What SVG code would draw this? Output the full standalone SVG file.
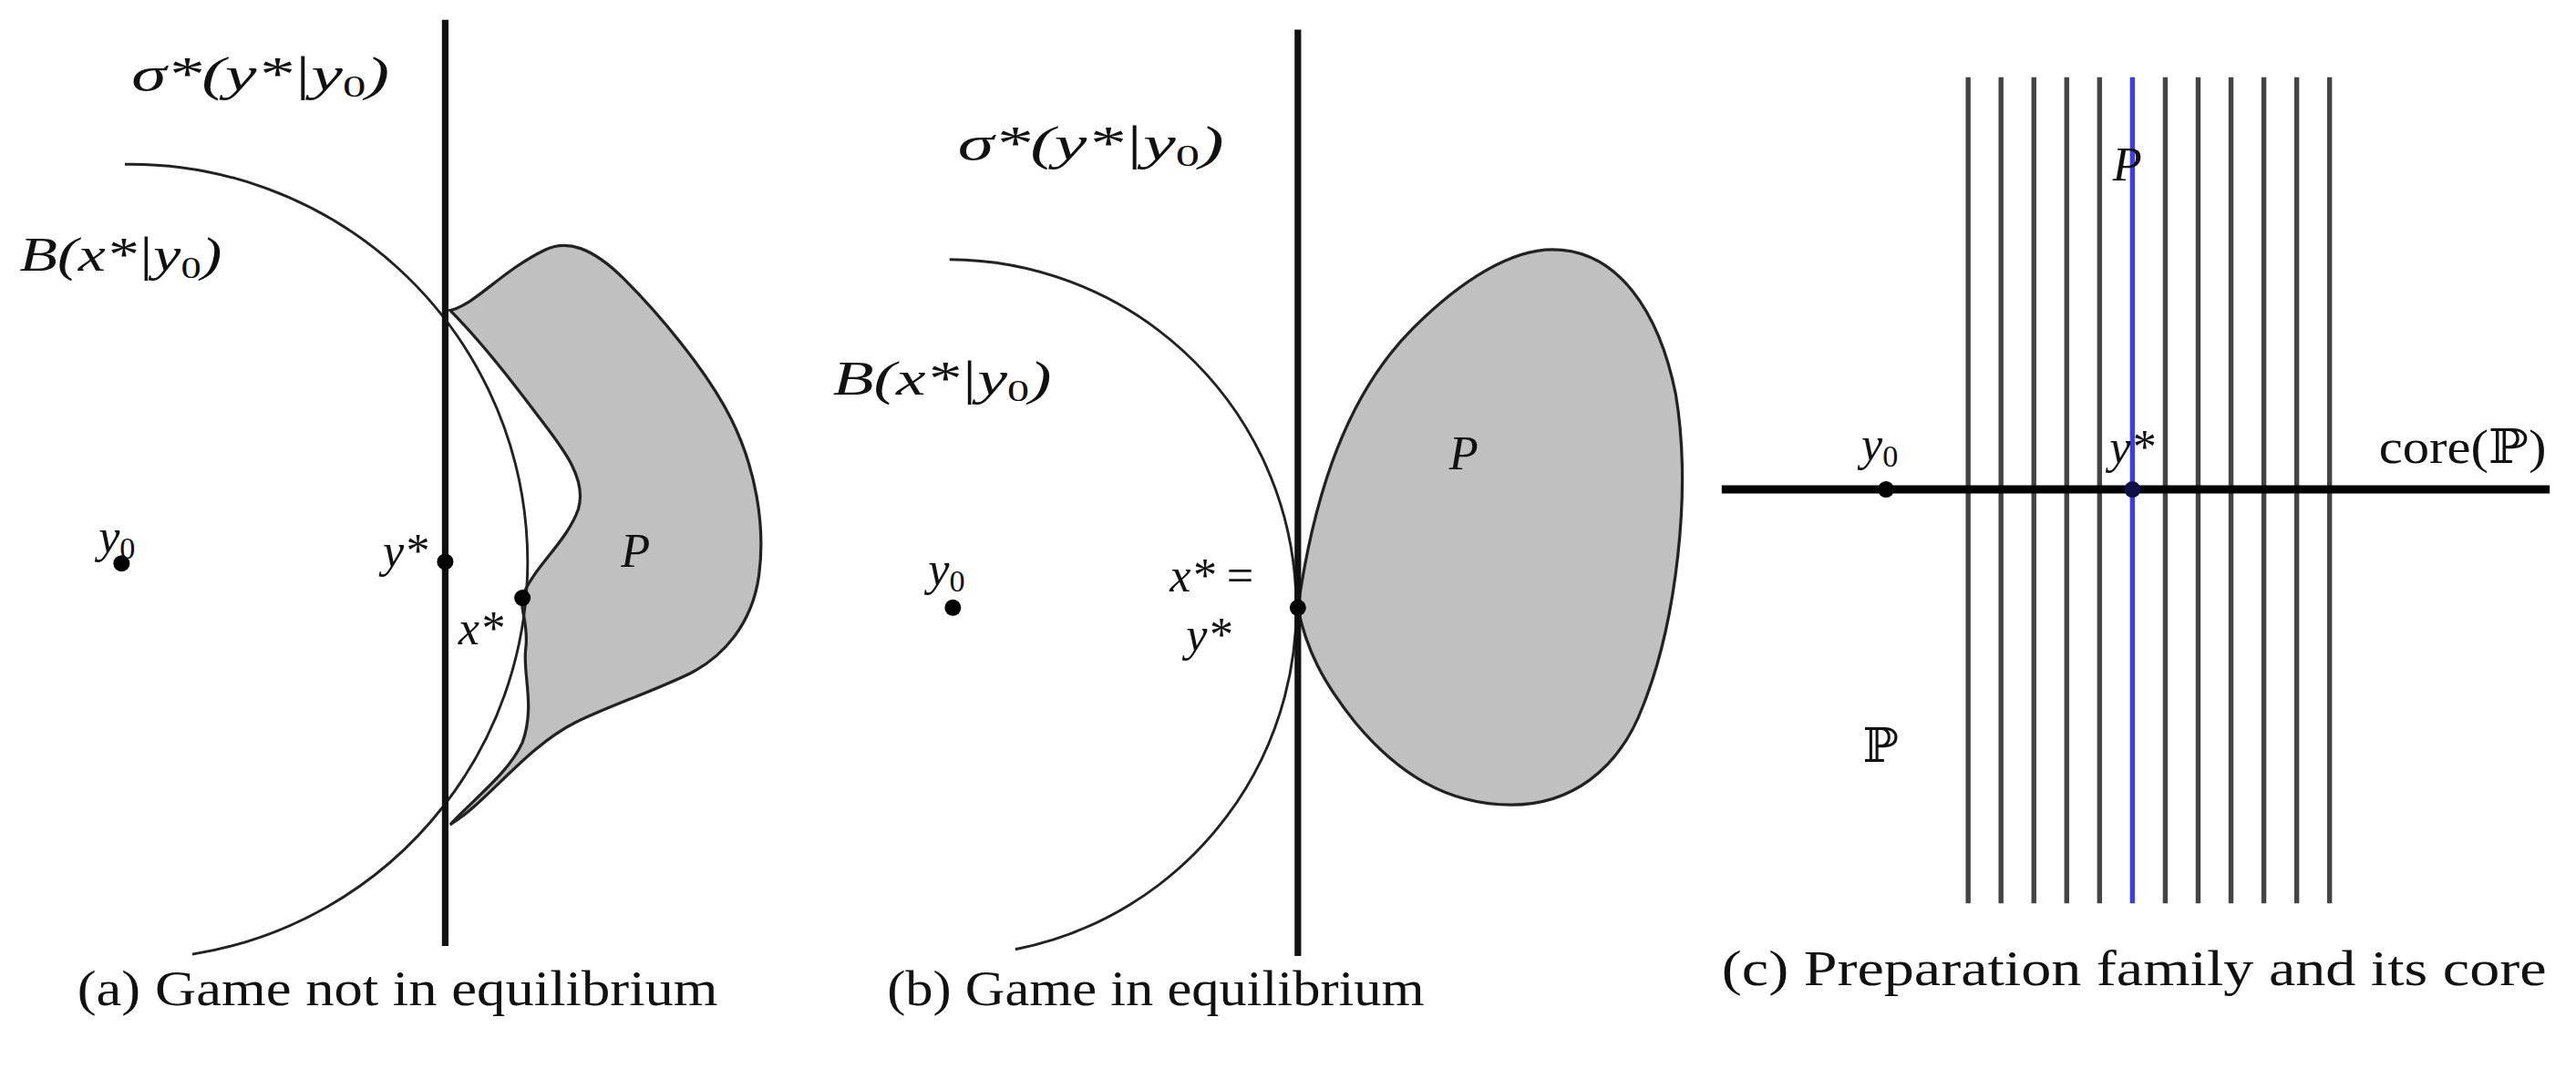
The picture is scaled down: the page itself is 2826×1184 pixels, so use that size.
<svg xmlns="http://www.w3.org/2000/svg" width="2826" height="1184" viewBox="0 0 2826 1184">
<style>
.m{font-family:"Liberation Serif","DejaVu Serif",serif;font-style:italic;font-size:29px;fill:#111}
.r{font-family:"Liberation Serif","DejaVu Serif",serif;font-style:normal;font-size:29px;fill:#111}
.s{font-style:normal;font-size:19px}
.cap{font-family:"Liberation Serif","DejaVu Serif",serif;font-size:31px;fill:#111}
.thin{fill:none;stroke:#222;stroke-width:1.6}
.axis{stroke:#111;stroke-width:4}
.blob{fill:#c0c0c0;stroke:#222;stroke-width:1.8}
.vl{stroke:#444;stroke-width:3}
</style>
<rect width="2826" height="1184" fill="#fff"/>
<g transform="scale(1.8023)">
<g id="panel-a">
<path class="blob" d="M274,189 C290,185 305,165 332,152 C345,146 360,150 380,170 C400,190 430,225 445,255 C460,285 466,320 462,350 C458,380 440,400 420,410 C395,422 370,430 350,440 C320,455 295,490 274,502 C290,485 310,470 318,452 C326,430 318,410 320,395 C322,380 316,370 318,363 C325,345 345,330 352,310 C358,290 340,270 325,250 C310,230 290,205 274,189 Z"/>
<path class="thin" d="M76,100 A242 242 0 0 1 117,581"/>
<line class="axis" x1="271" y1="12" x2="271" y2="576"/>
<circle cx="74" cy="343" r="5"/>
<circle cx="271" cy="342" r="5"/>
<circle cx="318" cy="364" r="5"/>
<text class="m" x="80" y="55" textLength="157" lengthAdjust="spacingAndGlyphs">σ*(y*|y<tspan class="s" dy="4">0</tspan><tspan dy="-4">)</tspan></text>
<text class="m" x="12" y="165" textLength="123" lengthAdjust="spacingAndGlyphs">B(x*|y<tspan class="s" dy="4">0</tspan><tspan dy="-4">)</tspan></text>
<text class="m" x="60" y="336">y<tspan class="s" dy="4">0</tspan></text>
<text class="m" x="233" y="345">y*</text>
<text class="m" x="279" y="392">x*</text>
<text class="m" x="378" y="345" font-size="31">P</text>
<text class="cap" x="47" y="612" textLength="390" lengthAdjust="spacingAndGlyphs">(a) Game not in equilibrium</text>
</g>
<g id="panel-b">
<path class="blob" d="M790,370 C800,300 820,240 860,200 C890,170 920,152 945,152 C985,152 1010,190 1020,240 C1030,300 1020,380 1000,430 C985,470 955,490 920,490 C880,490 850,470 825,440 C805,415 795,395 790,370 Z"/>
<path class="thin" d="M578,158 A212 212 0 0 1 618,578"/>
<line class="axis" x1="790" y1="18" x2="790" y2="582"/>
<circle cx="580" cy="370" r="5"/>
<circle cx="790" cy="370" r="5"/>
<text class="m" x="583" y="97" textLength="162" lengthAdjust="spacingAndGlyphs">σ*(y*|y<tspan class="s" dy="4">0</tspan><tspan dy="-4">)</tspan></text>
<text class="m" x="507" y="240" textLength="133" lengthAdjust="spacingAndGlyphs">B(x*|y<tspan class="s" dy="4">0</tspan><tspan dy="-4">)</tspan></text>
<text class="m" x="565" y="356">y<tspan class="s" dy="4">0</tspan></text>
<text class="m" x="712" y="360">x* <tspan class="r">=</tspan></text>
<text class="m" x="722" y="396">y*</text>
<text class="m" x="882" y="286" font-size="31">P</text>
<text class="cap" x="540" y="612" textLength="327" lengthAdjust="spacingAndGlyphs">(b) Game in equilibrium</text>
</g>
<g id="panel-c">
<g id="family">
<line class="vl" x1="1198" y1="47" x2="1198" y2="550"/>
<line class="vl" x1="1218" y1="47" x2="1218" y2="550"/>
<line class="vl" x1="1238" y1="47" x2="1238" y2="550"/>
<line class="vl" x1="1258" y1="47" x2="1258" y2="550"/>
<line class="vl" x1="1278" y1="47" x2="1278" y2="550"/>
<line x1="1298" y1="47" x2="1298" y2="550" stroke="#3a3aff" stroke-width="3"/>
<line class="vl" x1="1318" y1="47" x2="1318" y2="550"/>
<line class="vl" x1="1338" y1="47" x2="1338" y2="550"/>
<line class="vl" x1="1358" y1="47" x2="1358" y2="550"/>
<line class="vl" x1="1378" y1="47" x2="1378" y2="550"/>
<line class="vl" x1="1398" y1="47" x2="1398" y2="550"/>
<line class="vl" x1="1418" y1="47" x2="1418" y2="550"/>
</g>
<line x1="1048" y1="298" x2="1552" y2="298" stroke="#000" stroke-width="5"/>
<circle cx="1148" cy="298" r="5"/>
<circle cx="1298" cy="298" r="5" fill="#10104a"/>
<text class="m" x="1133" y="280">y<tspan class="s" dy="4">0</tspan></text>
<text class="m" x="1284" y="282">y*</text>
<text class="r" x="1448" y="282" textLength="102" lengthAdjust="spacingAndGlyphs">core(<tspan font-family="DejaVu Serif">ℙ</tspan>)</text>
<text class="m" x="1286" y="110" font-size="31">P</text>
<text class="r" x="1134" y="464" font-family="DejaVu Serif">ℙ</text>
<text class="cap" x="1048" y="600" textLength="502" lengthAdjust="spacingAndGlyphs">(c) Preparation family and its core</text>
</g>
</g>
</svg>
